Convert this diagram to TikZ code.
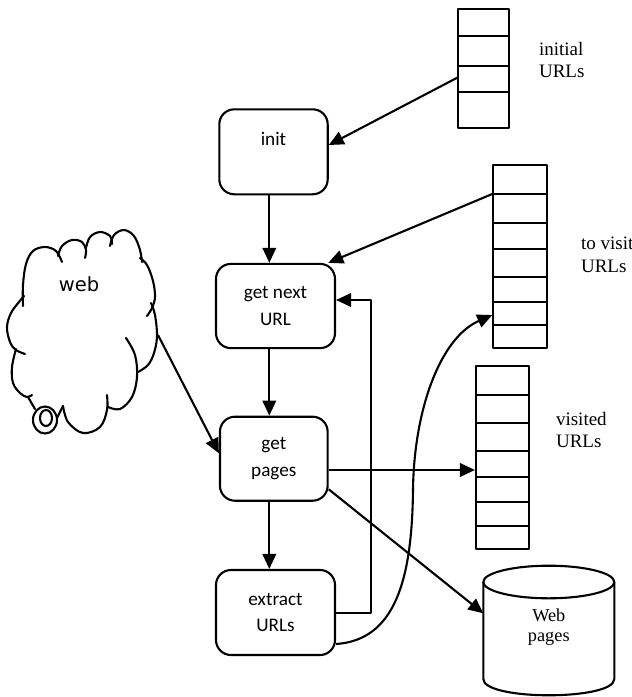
\documentclass[tikz,border=0pt]{standalone}
\usepackage{fontspec}
\setmainfont{Liberation Serif}
\newfontfamily\boxfont{Carlito}
\newfontfamily\cloudfont{DejaVu Sans}
\usetikzlibrary{arrows.meta}

\begin{document}
\begin{tikzpicture}[x=1pt,y=-1pt,
  line width=2.1pt, line join=round,
  arr/.style={-{Triangle[length=15pt,width=13.5pt]}},
  proc/.style={draw, rounded corners=15pt, align=center, inner sep=0pt,
    font=\boxfont\fontsize{19.2}{26.6}\selectfont},
  stack/.style={draw, inner sep=0pt},
  lbl/.style={align=left, anchor=west, inner sep=0pt,
    font=\fontsize{19}{22.5}\selectfont},
  lobe/.style={line cap=round}
]
\useasboundingbox (0,0) rectangle (632,697);

% ---- process boxes
\node[proc, minimum width=108.4pt, minimum height=85pt]  (init)     at (273.5,151.8) {init\\\mbox{}};
\node[proc, minimum width=119pt,   minimum height=84.3pt] (getnext)  at (275.5,306)   {get next\\URL};
\node[proc, minimum width=107.7pt, minimum height=84pt]  (getpages) at (273.8,458.7) {get\\pages};
\node[proc, minimum width=119pt,   minimum height=85pt]  (extract)  at (275.5,612.5) {extract\\URLs};

% ---- URL queues
\node[stack, minimum width=50.7pt, minimum height=118.4pt] (initial) at (483.65,68.5) {};
\foreach \y in {35.7,65.7,91.7}
  \draw (initial.west |- 0,\y) -- (initial.east |- 0,\y);
\node[stack, minimum width=53.4pt, minimum height=183.3pt] (tovisit) at (520,256.65) {};
\foreach \y in {194,222.7,249.3,276.7,301.7,325}
  \draw (tovisit.west |- 0,\y) -- (tovisit.east |- 0,\y);
\node[stack, minimum width=53pt, minimum height=183pt] (visited) at (502.5,457.5) {};
\foreach \y in {395,423.3,450.7,476.7,502,526}
  \draw (visited.west |- 0,\y) -- (visited.east |- 0,\y);

\node[lbl] (initlbl)    at (538,60)  {initial\\URLs};
\node[lbl] (tovisitlbl) at (580,255) {to visit\\URLs};
\node[lbl] (visitedlbl) at (555,430) {visited\\URLs};

% ---- page store (cylinder)
\draw (548.8,582) ellipse [x radius=65.5, y radius=16.3];
\draw (483.3,582) -- (483.3,679)
      .. controls (483.3,700.7) and (614.3,700.7) .. (614.3,679) -- (614.3,582);
\coordinate (storeedge) at (483.3,613.3);
\node[align=center, inner sep=0pt, font=\fontsize{18.3}{20}\selectfont] (webpages) at (548.8,626.7) {Web\\pages};

% ---- the web (cloud)
\begin{scope}[lobe]
\draw plot[smooth, tension=0.6] coordinates {(62,262) (56,251) (45,247) (33,251) (26,264) (23,285) (23,306)};
\draw plot[smooth, tension=0.6] coordinates {(24,296) (19,302) (11,313) (7,327) (10,342) (16,350) (25,354)};
\draw plot[smooth, tension=0.6] coordinates {(16,349) (12,367) (13,383) (20,393) (27,397) (32,395)};
\draw plot[smooth, tension=0.6] coordinates {(63,406) (68,422) (83,433) (100,427) (107,410) (107,395)};
\draw plot[smooth, tension=0.6] coordinates {(108,407) (120,409) (132,397) (137,377) (135,355) (126,338)};
\draw plot[smooth, tension=0.6] coordinates {(151,303) (155,315) (157,336) (154,353) (148,365) (138,372)};
\draw plot[smooth, tension=0.6] coordinates {(140,258) (147,265) (153,281) (155,297) (152,308) (147,316)};
\draw plot[smooth, tension=0.6] coordinates {(110,246) (114,235) (124,230) (134,236) (140,250) (142,262)};
\draw plot[smooth, tension=0.6] coordinates {(86,248) (90,237) (100,232) (110,236) (112,244)};
\draw plot[smooth, tension=0.6] coordinates {(58,256) (62,246) (72,240) (82,242) (86,250) (85,258)};
\draw (28,397) -- (35,409);
\draw (45,420) ellipse [x radius=12, y radius=13.5];
\draw (46,418) ellipse [x radius=6, y radius=8];
\draw (57,418) -- (63,406);
\end{scope}
\coordinate (cloudedge) at (158,335);
\node[inner sep=0pt, font=\cloudfont\fontsize{19.5}{22}\selectfont] (web) at (79,284) {web};

% ---- connectors
\draw[arr] (initial.west |- 0,77.7) -- (init.east |- 0,145);
\draw[arr] (init.south -| 269.3,0) -- (getnext.north -| 269.3,0);
\draw[arr] (tovisit.west |- 0,194) -- (getnext.north -| 328.3,0);
\draw[arr] (getnext.south -| 269.3,0) -- (getpages.north -| 269.3,0);
\draw[arr] (cloudedge) -- (getpages.west |- 0,453.3);
\draw[arr] (getpages.east |- 0,470) -- (visited.west |- 0,470);
\draw[arr] (getpages.east |- 0,489.3) -- (storeedge);
\draw[arr] (getpages.south -| 269.3,0) -- (extract.north -| 269.3,0);
\draw[arr] (extract.east |- 0,613.3) -| (370.7,300) -- (getnext.east |- 0,300);
\draw[arr] (extract.east |- 0,644) .. controls (395,640) and (412,580) .. (413,490)
           .. controls (414,410) and (440,338) .. (tovisit.west |- 0,315);
\end{tikzpicture}
\end{document}
